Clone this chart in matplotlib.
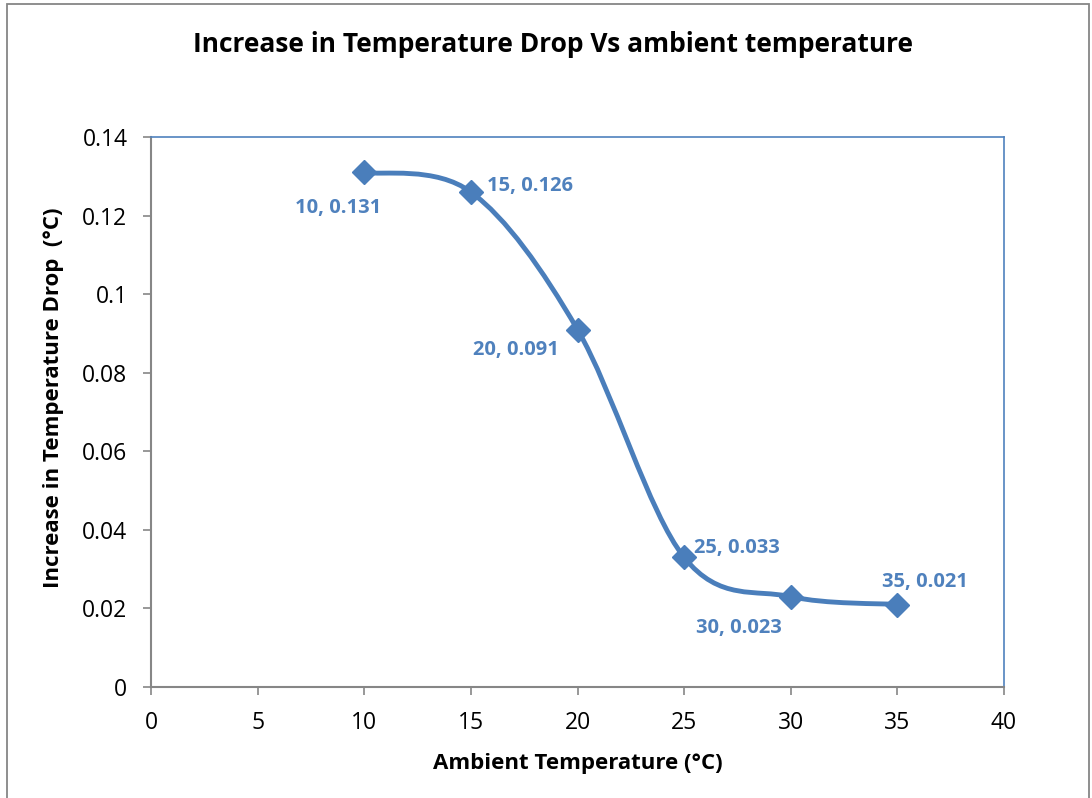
import numpy as np
import matplotlib
matplotlib.use("Agg")
import matplotlib.pyplot as plt
from matplotlib.path import Path
from matplotlib.patches import PathPatch, Rectangle

plt.rcParams['font.family'] = ['Open Sans', 'DejaVu Sans']

ambient = [10, 15, 20, 25, 30, 35]
temp_drop = [0.131, 0.126, 0.091, 0.033, 0.023, 0.021]
x_ticks = [0, 5, 10, 15, 20, 25, 30, 35, 40]
y_ticks = [0, 0.02, 0.04, 0.06, 0.08, 0.1, 0.12, 0.14]
y_tick_labels = ['0', '0.02', '0.04', '0.06', '0.08', '0.1', '0.12', '0.14']
# label offsets (pixels) relative to each point
label_offsets = [(-26, -36), (59, 6), (-62, -21), (53, 9), (-52, -31), (28, 23)]

BLUE = '#4A7EBB'
LABEL_BLUE = '#4F81BD'
GRAY = '#868686'

W, H = 1092, 798
fig = plt.figure(figsize=(W / 100, H / 100), dpi=100)
ax = fig.add_axes([151 / W, 1 - 687 / H, (1004 - 151) / W, (687 - 137) / H])

# smooth curve through the points (cardinal Bezier segments)
pts = np.column_stack([ambient, temp_drop]).astype(float)
verts = [tuple(pts[0])]
codes = [Path.MOVETO]
n = len(pts)
for i in range(n - 1):
    p0 = pts[i - 1] if i > 0 else pts[i]
    p1 = pts[i]
    p2 = pts[i + 1]
    p3 = pts[i + 2] if i + 2 < n else pts[i + 1]
    c1 = p1 + (p2 - p0) / 6.0
    c2 = p2 - (p3 - p1) / 6.0
    verts += [tuple(c1), tuple(c2), tuple(p2)]
    codes += [Path.CURVE4] * 3
ax.add_patch(PathPatch(Path(verts, codes), fill=False, edgecolor=BLUE, lw=3.5,
                       capstyle='round', joinstyle='round', zorder=3))
ax.plot(ambient, temp_drop, linestyle='none', marker='D', markersize=12,
        color=BLUE, zorder=4)

for xv, yv, (dx, dy) in zip(ambient, temp_drop, label_offsets):
    ax.annotate(f"{xv}, {yv}", (xv, yv), xytext=(dx, dy),
                textcoords='offset pixels', ha='center', va='center',
                fontsize=14.5, fontweight='bold', color=LABEL_BLUE, zorder=5)

ax.set_xlim(0, 40)
ax.set_ylim(0, 0.14)
ax.set_xticks(x_ticks)
ax.set_yticks(y_ticks)
ax.set_yticklabels(y_tick_labels)
ax.tick_params(axis='both', direction='out', length=6, width=1.2, color=GRAY,
               labelsize=16.5)
ax.tick_params(axis='y', pad=11)
ax.tick_params(axis='x', pad=11)
for side in ('left', 'bottom'):
    ax.spines[side].set_color(GRAY)
    ax.spines[side].set_linewidth(1.5)
for side in ('top', 'right'):
    ax.spines[side].set_color(LABEL_BLUE)
    ax.spines[side].set_linewidth(1.2)

ax.set_xlabel('Ambient Temperature (°C)', fontsize=16, fontweight='bold', labelpad=13)
ax.set_ylabel('Increase in Temperature Drop  (°C)', fontsize=16, fontweight='bold')
ax.yaxis.set_label_coords(-0.102, 0.525)

fig.text(553 / W, 1 - 45 / H, 'Increase in Temperature Drop Vs ambient temperature',
         ha='center', va='center', fontsize=19, fontweight='bold')

# outer chart frame
fig.patches.append(Rectangle((7 / W, -0.01), 1082 / W, 1 - 4 / H + 0.01,
                             transform=fig.transFigure, fill=False,
                             edgecolor=GRAY, lw=1.3))

fig.savefig('out.png', dpi=100)
